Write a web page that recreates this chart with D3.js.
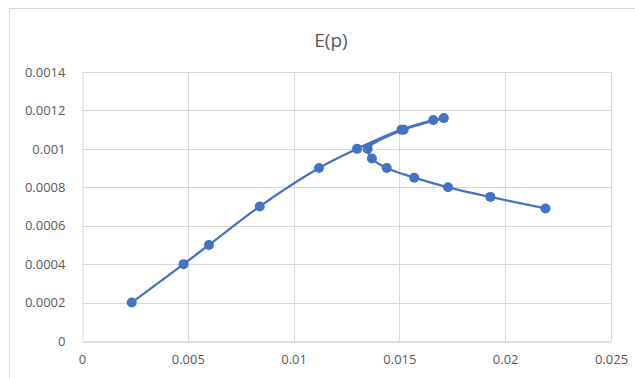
<!DOCTYPE html>
<html>
<head>
<meta charset="utf-8">
<script src="https://cdn.jsdelivr.net/npm/d3@7"></script>
<style>
  html, body { margin: 0; padding: 0; background: #fff; }
  svg { display: block; }
  text { font-family: "Open Sans", "Noto Sans", sans-serif; fill: #595959; }
</style>
</head>
<body>
<svg id="chart" width="635" height="378"></svg>
<script>
// Series values, in drawing order (the curve turns back at its tip)
const xValues = [0.00235, 0.0048, 0.006, 0.0084, 0.0112, 0.013, 0.0151, 0.0166, 0.0171,
                 0.0152, 0.0135, 0.0137, 0.0144, 0.0157, 0.0173, 0.0193, 0.0219];
const yValues = [0.0002, 0.0004, 0.0005, 0.0007, 0.0009, 0.001, 0.0011, 0.00115, 0.00116,
                 0.0011, 0.001, 0.00095, 0.0009, 0.00085, 0.0008, 0.00075, 0.00069];
const xTicks = [0, 0.005, 0.01, 0.015, 0.02, 0.025];
const yTicks = [0, 0.0002, 0.0004, 0.0006, 0.0008, 0.001, 0.0012, 0.0014];
const xTickLabels = ["0", "0.005", "0.01", "0.015", "0.02", "0.025"];
const yTickLabels = ["0", "0.0002", "0.0004", "0.0006", "0.0008", "0.001", "0.0012", "0.0014"];
const title = "E(p)";

const svg = d3.select("#chart");
const plot = { left: 82, right: 611, top: 72, bottom: 341 };
const color = "#4472C4";

// Chart frame
svg.append("rect")
  .attr("x", 9.5).attr("y", 8.5)
  .attr("width", 640).attr("height", 400)
  .attr("fill", "#fff").attr("stroke", "#d9d9d9");

const x = d3.scaleLinear().domain([0, 0.025]).range([plot.left, plot.right]);
const y = d3.scaleLinear().domain([0, 0.0014]).range([plot.bottom, plot.top]);

// Gridlines
svg.append("g").selectAll("line.v").data(xTicks.slice(1)).join("line")
  .attr("x1", d => Math.round(x(d)) + 0.5).attr("x2", d => Math.round(x(d)) + 0.5)
  .attr("y1", plot.top).attr("y2", plot.bottom)
  .attr("stroke", "#d9d9d9").attr("stroke-width", 1);
svg.append("g").selectAll("line.h").data(yTicks.slice(1)).join("line")
  .attr("x1", plot.left).attr("x2", plot.right)
  .attr("y1", d => Math.round(y(d)) + 0.5).attr("y2", d => Math.round(y(d)) + 0.5)
  .attr("stroke", "#d9d9d9").attr("stroke-width", 1);

// Axes
const xAxis = d3.axisBottom(x).tickValues(xTicks).tickSize(0)
  .tickFormat((d, i) => xTickLabels[i]).tickPadding(13);
const gx = svg.append("g").attr("transform", `translate(0,${plot.bottom + 0.5})`).call(xAxis);
gx.select(".domain").attr("stroke", "#bfbfbf");
gx.selectAll("text").style("font-size", "13px").attr("fill", "#595959");

const yAxis = d3.axisLeft(y).tickValues(yTicks).tickSize(0)
  .tickFormat((d, i) => yTickLabels[i]).tickPadding(17);
const gy = svg.append("g").attr("transform", `translate(${plot.left + 0.5},0)`).call(yAxis);
gy.select(".domain").attr("stroke", "#d9d9d9");
gy.selectAll("text").style("font-size", "13px").attr("fill", "#595959");

// Title
svg.append("text")
  .attr("x", 331).attr("y", 47)
  .attr("text-anchor", "middle")
  .style("font-size", "19px")
  .text(title);

// Smoothed series line and markers
const pts = xValues.map((v, i) => [v, yValues[i]]);
const line = d3.line()
  .x(d => x(d[0])).y(d => y(d[1]))
  .curve(d3.curveCatmullRom.alpha(0.5));

svg.append("path")
  .datum(pts)
  .attr("d", line)
  .attr("fill", "none")
  .attr("stroke", color)
  .attr("stroke-width", 2.25)
  .attr("stroke-linejoin", "round");

svg.append("g").selectAll("circle").data(pts).join("circle")
  .attr("cx", d => x(d[0])).attr("cy", d => y(d[1]))
  .attr("r", 5)
  .attr("fill", color);
</script>
</body>
</html>
